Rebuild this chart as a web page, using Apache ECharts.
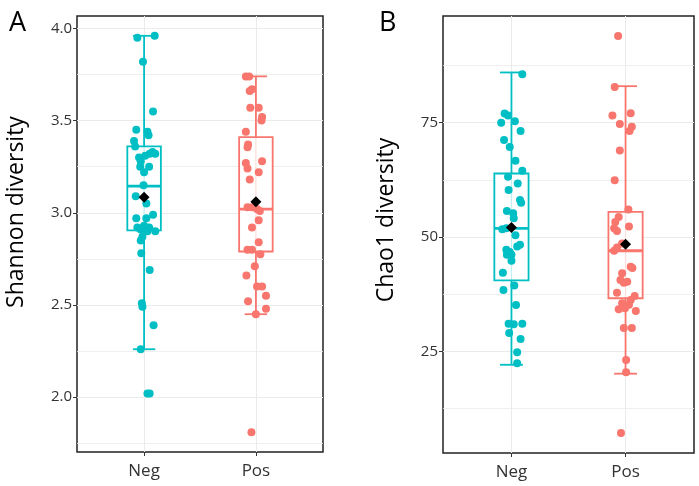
<!DOCTYPE html>
<html>
<head>
<meta charset="utf-8">
<script src="https://cdn.jsdelivr.net/npm/echarts@6/dist/echarts.min.js"></script>
<style>html,body{margin:0;padding:0;background:#fff}#c{width:699px;height:486px}</style>
</head>
<body>
<div id="c"></div>
<script>
const categories = ['Neg', 'Pos'];
const shannonTicks = [2.0, 2.5, 3.0, 3.5, 4.0];
const shannonMinor = [1.75, 2.25, 2.75, 3.25, 3.75];
const chao1Ticks = [25, 50, 75];
const chao1Minor = [12.5, 37.5, 62.5, 87.5];

const shannonNeg = [3.96,3.95,3.82,3.55,3.45,3.44,3.42,3.39,3.36,3.33,3.32,3.32,3.31,3.30,3.28,3.25,3.25,3.22,3.15,3.09,3.05,2.99,2.97,2.97,2.93,2.92,2.92,2.91,2.90,2.90,2.87,2.85,2.78,2.69,2.51,2.49,2.39,2.26,2.02,2.02];
const shannonNegJitter = [0.095,-0.06,-0.01,0.08,-0.07,0.03,0.04,-0.09,-0.08,0.075,0.1,0.05,0.01,-0.045,-0.03,-0.035,0.045,0,-0.005,-0.075,0.02,0.08,-0.07,0.02,0,-0.06,0.045,-0.03,0.1,0.03,-0.015,-0.03,-0.025,0.05,-0.02,-0.015,0.085,-0.03,0.03,0.05];
const shannonPos = [3.74,3.74,3.67,3.66,3.57,3.57,3.52,3.50,3.44,3.37,3.355,3.28,3.27,3.24,3.22,3.18,3.03,3.03,3.02,3.01,2.96,2.92,2.84,2.80,2.80,2.775,2.71,2.66,2.60,2.60,2.55,2.52,2.48,2.45,1.81];
const shannonPosJitter = [-0.09,-0.06,-0.035,-0.055,-0.05,0.025,0.055,0.05,-0.09,-0.07,-0.075,0.055,-0.09,-0.075,0.025,-0.055,-0.075,-0.035,0.01,0.035,0.025,-0.035,0.025,-0.075,-0.035,0.04,-0.01,-0.085,0.01,0.055,0.09,-0.07,0.09,0,-0.04];
const shannonNegBox = [2.26, 2.905, 3.145, 3.36, 3.96];
const shannonPosBox = [2.45, 2.79, 3.02, 3.41, 3.74];
const shannonMeans = [3.085, 3.06];

const chao1Neg = [85.6,77.0,76.6,75.0,75.3,73.2,71.2,69.7,66.7,64.5,63.2,61.7,60.3,58.1,57.5,55.7,55.2,54.1,51.7,51.9,50.4,48.3,47.9,47.2,46.7,46.1,46.1,44.8,42.2,39.4,38.4,35.1,31.0,30.9,31.0,29.0,27.7,24.8,22.4];
const chao1NegJitter = [0.095,-0.06,-0.03,-0.09,0.03,0.08,-0.065,-0.015,0.035,0.095,-0.03,0.055,-0.025,0.075,0.085,-0.04,0.015,0.02,-0.08,-0.045,0.035,0.075,0.05,-0.045,-0.015,0,-0.04,0,-0.075,0.025,-0.07,0.04,-0.025,0.02,0.095,-0.02,0.08,0.05,0.05];
const chao1Pos = [94.0,82.8,76.6,77.1,74.7,74.1,73.2,68.9,62.4,56.0,54.4,53.3,51.9,51.3,52.3,48.6,47.7,47.0,43.5,43.2,42.1,40.6,40.2,40.0,37.8,37.1,36.2,35.5,35.2,34.2,34.4,33.8,30.1,30.1,23.1,20.4,7.1];
const chao1PosJitter = [-0.065,-0.095,-0.115,0.045,-0.05,0.055,0.035,-0.05,-0.095,0.025,-0.06,-0.09,-0.1,-0.075,0.03,-0.03,-0.075,-0.1,0.045,0.06,-0.03,-0.045,0.015,-0.015,-0.075,0.08,0.045,-0.03,0.03,-0.06,-0.005,0.09,-0.015,0.055,0.005,0.005,-0.04];
const chao1NegBox = [22.05, 40.5, 51.9, 63.9, 86.0];
const chao1PosBox = [20.1, 36.6, 47.0, 55.5, 83.0];
const chao1Means = [52.1, 48.4];

const colors = ['#00BFC4', '#F8766D'];
const FONT = 'Open Sans';

function pts(vals, jit, cat) { return vals.map((v, i) => [cat + jit[i], v]); }

function renderBox(params, api) {
  const x = api.value(0);
  const lo = api.value(1), q1 = api.value(2), med = api.value(3), q3 = api.value(4), hi = api.value(5);
  const col = colors[x];
  const bw = 0.15, cw = 0.1;
  const c = (xx, yy) => api.coord([xx, yy]);
  const line = (a, b, w, op) => ({type: 'line', shape: {x1: a[0], y1: a[1], x2: b[0], y2: b[1]}, style: {stroke: col, lineWidth: w, opacity: op == null ? 1 : op}});
  const tl = c(x - bw, q3), br = c(x + bw, q1);
  return {type: 'group', children: [
    line(c(x, hi), c(x, q3), 1.8),
    line(c(x, q1), c(x, lo), 1.8),
    line(c(x - cw, hi), c(x + cw, hi), 1.8),
    line(c(x - cw, lo), c(x + cw, lo), 1.8),
    {type: 'rect', shape: {x: tl[0], y: tl[1], width: br[0] - tl[0], height: br[1] - tl[1]}, style: {fill: '#fff', stroke: col, lineWidth: 1.8}},
    line(c(x, q3), c(x, q1), 1.2, 0.25),
    line(c(x - bw, med), c(x + bw, med), 2.8)
  ]};
}

function xAxisCfg(gi) {
  return {
    type: 'value', gridIndex: gi, min: -0.6, max: 1.6,
    axisLine: {show: false, onZero: false},
    axisTick: {show: true, length: 4, customValues: [0, 1], lineStyle: {color: '#333', width: 1}},
    axisLabel: {customValues: [0, 1], formatter: v => categories[Math.round(v)], fontFamily: FONT, fontSize: 17, color: '#333', margin: 11},
    splitLine: {show: true, lineStyle: {color: '#ebebeb', width: 1}}
  };
}
function yAxisCfg(gi, min, max, ticks, fmt, name, pad) {
  return {
    type: 'value', gridIndex: gi, min: min, max: max, position: 'left',
    axisLine: {show: false, onZero: false},
    axisTick: {show: true, length: 4, customValues: ticks, lineStyle: {color: '#333', width: 1}},
    axisLabel: {customValues: ticks, formatter: fmt, fontFamily: FONT, fontSize: 15, color: '#333', margin: 5},
    splitLine: {show: true, lineStyle: {color: '#ebebeb', width: 1}},
    name: name, nameLocation: 'middle', nameGap: pad[0],
    nameTextStyle: {fontFamily: FONT, fontSize: 23, color: '#000', padding: pad[1]}
  };
}
function yMinorCfg(gi, min, max, ticks) {
  return {
    type: 'value', gridIndex: gi, min: min, max: max, position: 'left',
    axisLine: {show: false, onZero: false},
    axisTick: {show: false, customValues: ticks},
    axisLabel: {show: false},
    splitLine: {show: true, lineStyle: {color: '#ebebeb', width: 0.8}}
  };
}

const chart = echarts.init(document.getElementById('c'), null, {renderer: 'canvas'});
chart.setOption({
  animation: false,
  backgroundColor: '#fff',
  title: [
    {text: 'A', left: 4, top: 5, textStyle: {fontFamily: FONT, fontSize: 27, fontWeight: 'normal', color: '#000'}},
    {text: 'B', left: 374, top: 5, textStyle: {fontFamily: FONT, fontSize: 27, fontWeight: 'normal', color: '#000'}}
  ],
  grid: [
    {left: 77, top: 16, width: 246, height: 436, show: true, borderColor: '#222', borderWidth: 1.5, backgroundColor: 'transparent'},
    {left: 443, top: 16, width: 251, height: 437, show: true, borderColor: '#222', borderWidth: 1.5, backgroundColor: 'transparent'}
  ],
  xAxis: [xAxisCfg(0), xAxisCfg(1)],
  yAxis: [
    yAxisCfg(0, 1.7025, 4.0675, shannonTicks, v => v.toFixed(1), 'Shannon diversity', [49, [0, 0, 0, 44]]),
    yAxisCfg(1, 2.75, 98.35, chao1Ticks, v => String(v), 'Chao1 diversity', [45, [0, 0, 0, 29]]),
    yMinorCfg(0, 1.7025, 4.0675, shannonMinor),
    yMinorCfg(1, 2.75, 98.35, chao1Minor)
  ],
  series: [
    {type: 'custom', xAxisIndex: 0, yAxisIndex: 0, z: 3, renderItem: renderBox,
     data: [[0].concat(shannonNegBox), [1].concat(shannonPosBox)]},
    {type: 'custom', xAxisIndex: 1, yAxisIndex: 1, z: 3, renderItem: renderBox,
     data: [[0].concat(chao1NegBox), [1].concat(chao1PosBox)]},
    {type: 'scatter', xAxisIndex: 0, yAxisIndex: 0, z: 4, symbolSize: 8, itemStyle: {color: colors[0], opacity: 1}, data: pts(shannonNeg, shannonNegJitter, 0)},
    {type: 'scatter', xAxisIndex: 0, yAxisIndex: 0, z: 4, symbolSize: 8, itemStyle: {color: colors[1], opacity: 1}, data: pts(shannonPos, shannonPosJitter, 1)},
    {type: 'scatter', xAxisIndex: 1, yAxisIndex: 1, z: 4, symbolSize: 8, itemStyle: {color: colors[0], opacity: 1}, data: pts(chao1Neg, chao1NegJitter, 0)},
    {type: 'scatter', xAxisIndex: 1, yAxisIndex: 1, z: 4, symbolSize: 8, itemStyle: {color: colors[1], opacity: 1}, data: pts(chao1Pos, chao1PosJitter, 1)},
    {type: 'scatter', xAxisIndex: 0, yAxisIndex: 0, z: 5, symbol: 'diamond', symbolSize: [11, 11], itemStyle: {color: '#000', opacity: 1}, data: shannonMeans.map((m, i) => [i, m])},
    {type: 'scatter', xAxisIndex: 1, yAxisIndex: 1, z: 5, symbol: 'diamond', symbolSize: [11, 11], itemStyle: {color: '#000', opacity: 1}, data: chao1Means.map((m, i) => [i, m])}
  ]
});
</script>
</body>
</html>
